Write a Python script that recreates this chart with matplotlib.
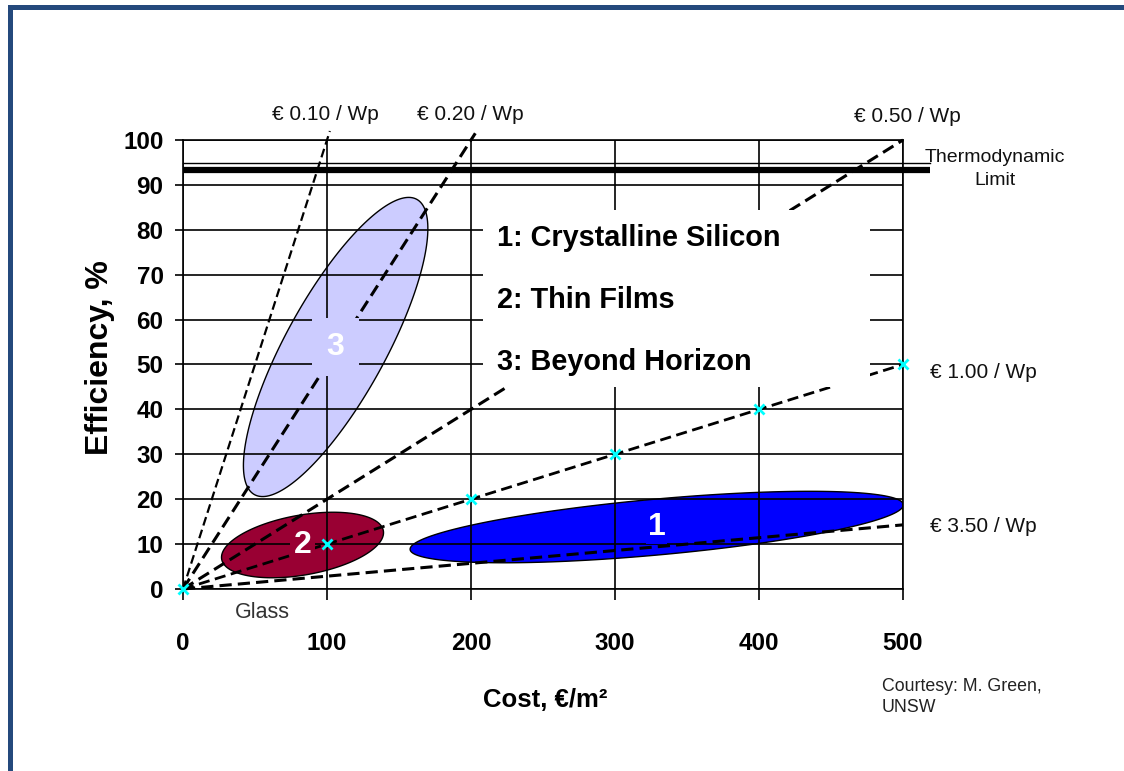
"""
Efficiency vs cost of PV generations (after M. Green) – redrawn
"""

import matplotlib
matplotlib.use("Agg")
import matplotlib.pyplot as plt
from matplotlib import font_manager
from matplotlib.patches import Polygon, Rectangle
import numpy as np

# ── data ─────────────────────────────────────────────────────────────────────
PRICES     = [0.10, 0.20, 0.50, 1.00, 3.50]        # €/Wp iso-price lines
PRICE_END  = [102, 203, 500, 500, 500]             # cost (€/m²) where each line stops
PRICE_TXT  = ["€ 0.10 / Wp", "€ 0.20 / Wp", "€ 0.50 / Wp", "€ 1.00 / Wp", "€ 3.50 / Wp"]
MARK_COST  = [0, 100, 200, 300, 400, 500]           # crosses on the €1.00 line
THERMO_EFF = 93.3                                   # thermodynamic limit band
THERMO_TOP = 94.9
THERMO_END = 519

REG_NUM    = ["1", "2", "3"]
REG_NAMES  = ["1: Crystalline Silicon", "2: Thin Films", "3: Beyond Horizon"]
REG_COST   = [329, 83, 106]          # centre cost
REG_EFF    = [13.8, 9.8, 53.9]       # centre efficiency
REG_LEN    = [172, 57, 117]          # half length (cost units)
REG_WID    = [19.4, 20.8, 34.7]      # half width (cost units)
REG_TILT   = [5.2, 10.0, 61.2]       # tilt as seen, degrees
REG_COLORS = ["#0000FF", "#990033", "#CCCCFF"]

XTICKS = list(range(0, 501, 100))
YTICKS = list(range(0, 101, 10))

# ── fonts ────────────────────────────────────────────────────────────────────
names = {f.name for f in font_manager.fontManager.ttflist}
NARROW = "Liberation Sans Narrow" if "Liberation Sans Narrow" in names else "Liberation Sans"
WIDE = "Liberation Sans"

W, H = 1124, 771
fig = plt.figure(figsize=(W / 100, H / 100), dpi=100, facecolor="white")

def px(x, y):
    return x / W, 1 - y / H

L, R, T, B = 183, 903, 140, 589
ax = fig.add_axes([L / W, 1 - B / H, (R - L) / W, (B - T) / H])
ax.set_xlim(0, 500)
ax.set_ylim(0, 100)

# visual aspect: pixels per efficiency unit / pixels per cost unit
k = ((B - T) / 100) / ((R - L) / 500)

# ── grid / axes ──────────────────────────────────────────────────────────────
ax.set_axisbelow("line")
ax.set_xticks(XTICKS)
ax.set_yticks(YTICKS)
ax.grid(True, color="black", lw=1.2)
for s in ax.spines.values():
    s.set_color("black")
    s.set_linewidth(1.2)
ax.tick_params(axis="x", direction="out", length=8, width=1.2, pad=23,
               labelsize=17.5)
ax.tick_params(axis="y", direction="out", length=6, width=1.2, pad=8,
               labelsize=17.5)
for lab in ax.get_xticklabels() + ax.get_yticklabels():
    lab.set_fontfamily(NARROW)
    lab.set_fontweight("bold")

# ── regions (ellipses) ───────────────────────────────────────────────────────
t = np.linspace(0, 2 * np.pi, 200)
for i in range(len(REG_NUM)):
    th = np.radians(REG_TILT[i])
    ex = REG_LEN[i] * np.cos(t) * np.cos(th) - REG_WID[i] * np.sin(t) * np.sin(th)
    ey = REG_LEN[i] * np.cos(t) * np.sin(th) + REG_WID[i] * np.sin(t) * np.cos(th)
    pts = np.column_stack([REG_COST[i] + ex, REG_EFF[i] + ey / k])
    ax.add_patch(Polygon(pts, closed=True, facecolor=REG_COLORS[i],
                         edgecolor="black", lw=1.0, zorder=1))

# ── iso-price lines ──────────────────────────────────────────────────────────
widths = [1.6, 2.2, 2.2, 2.0, 2.2]
for p, end, lw in zip(PRICES, PRICE_END, widths):
    c = np.array([0, end])
    ax.plot(c, c / (10 * p), color="black", lw=lw, ls=(0, (4, 2)),
            zorder=2, clip_on=False, solid_capstyle="butt")

mc = np.array(MARK_COST)
ax.plot(mc, mc / (10 * PRICES[3]), ls="none", marker="x", color="#00FFFF",
        ms=7, mew=2, zorder=3.6, clip_on=False)

# thermodynamic limit
ax.plot([0, THERMO_END], [THERMO_EFF, THERMO_EFF], color="black", lw=4.5,
        solid_capstyle="butt", zorder=2.2, clip_on=False)
ax.plot([0, THERMO_END], [THERMO_TOP, THERMO_TOP], color="black", lw=1.0,
        zorder=2.2, clip_on=False)

# white box for the region names
ax.add_patch(Rectangle((208, 45), 269, 39.4, facecolor="white",
                       edgecolor="none", zorder=3))
for name, y in zip(REG_NAMES, [238, 300, 362]):
    fig.text(*px(497, y), name, ha="left", va="center", fontsize=20.8,
             fontweight="bold", family=NARROW, zorder=5)

# region numbers
pads = [0.05, 0.1, 0.45]
for i, num in enumerate(REG_NUM):
    ax.text(REG_COST[i], REG_EFF[i], num,
            ha="center", va="center", fontsize=23, fontweight="bold",
            family=NARROW, color="white", zorder=3.5,
            bbox=dict(boxstyle=f"square,pad={pads[i]}", fc=REG_COLORS[i],
                      ec="none"))

# ── labels ───────────────────────────────────────────────────────────────────
lab_kw = dict(fontsize=15, family=NARROW, color="#111111")
fig.text(*px(325, 114), PRICE_TXT[0], ha="center", va="center", **lab_kw)
fig.text(*px(470, 114), PRICE_TXT[1], ha="center", va="center", **lab_kw)
fig.text(*px(907, 117), PRICE_TXT[2], ha="center", va="center", **lab_kw)
fig.text(*px(930, 372), PRICE_TXT[3], ha="left", va="center", **lab_kw)
fig.text(*px(930, 527), PRICE_TXT[4], ha="left", va="center", **lab_kw)
fig.text(*px(995, 169), "Thermodynamic\nLimit", ha="center", va="center",
         linespacing=1.45, fontsize=14, family=NARROW, color="#111111")
fig.text(*px(262, 612), "Glass", ha="center", va="center", fontsize=15.5,
         family=WIDE, color="#333333")
fig.text(*px(882, 697), "Courtesy: M. Green,\nUNSW", ha="left", va="center",
         fontsize=12.8, family=NARROW, color="#222222", linespacing=1.3)

fig.text(*px(545, 700), "Cost, €/m²", ha="center", va="center", fontsize=18.5,
         fontweight="bold", family=NARROW)
fig.text(*px(100, 358), "Efficiency, %", ha="center", va="center",
         rotation=90, fontsize=23, fontweight="bold", family=WIDE)

# ── frame ────────────────────────────────────────────────────────────────────
frame = "#24497C"
fig.add_artist(Rectangle(px(8, 771), 5 / W, 766 / H, transform=fig.transFigure,
                         facecolor=frame, edgecolor="none"))
fig.add_artist(Rectangle(px(8, 10), (W - 8) / W, 5 / H, transform=fig.transFigure,
                         facecolor=frame, edgecolor="none"))

fig.savefig("out.png", dpi=100, facecolor="white")
